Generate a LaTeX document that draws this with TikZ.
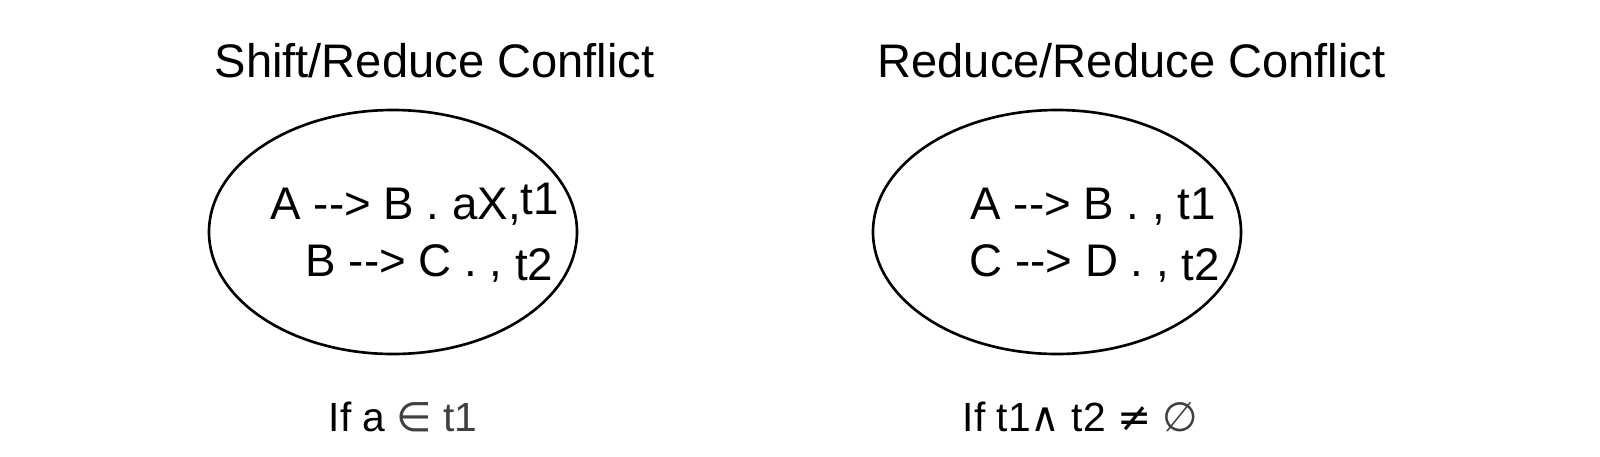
\documentclass[tikz,border=0pt]{standalone}
\usepackage{fontspec}
\usepackage{xcolor}
\setmainfont{Liberation Sans}
\newfontfamily\conflictsym{DejaVu Sans}
\usetikzlibrary{shapes.geometric}
\definecolor{conflictdark}{RGB}{0,0,0}
\definecolor{conflictgray}{RGB}{64,64,64}
\newcommand{\yields}{-{}->}
\tikzset{
  item set/.style={
    draw=conflictdark,
    ellipse,
    line width=0.75pt,
    minimum width=3.68cm,
    minimum height=2.44cm,
    inner sep=0pt,
  },
  title text/.style={
    font=\fontsize{13.4}{16}\selectfont,
    anchor=base,
    inner sep=0pt,
  },
  item text/.style={
    font=\fontsize{13}{15}\selectfont,
    anchor=base west,
    inner sep=0pt,
  },
  cond text/.style={
    font=\fontsize{11.6}{14}\selectfont,
    anchor=base west,
    inner sep=0pt,
  },
}

\begin{document}
\begin{tikzpicture}[x=1cm,y=1cm]
  \useasboundingbox (0,0) rectangle (16,-4.56);
  \node[item set] (srset) at (3.93,-2.32) {};
  \node[item set] (rrset) at (10.57,-2.32) {};

  \node[title text] (srtitle) at (4.345,-0.77) {Shift/Reduce Conflict};
  \node[title text] (rrtitle) at (11.315,-0.77) {Reduce/Reduce Conflict};

  \node[item text] (sritema) at (2.70,-2.19)
    {A \yields{} B . aX,\raisebox{1.4pt}{t1}};
  \node[item text] (sritemb) at (3.05,-2.76)
    {B \yields{} C . , \raisebox{-1.4pt}{t2}};
  \node[item text] (rritema) at (9.70,-2.19)
    {A \yields{} B . , t1};
  \node[item text] (rritemb) at (9.69,-2.76)
    {C \yields{} D . , \raisebox{-1.4pt}{t2}};

  \node[cond text] (srcond) at (3.28,-4.31)
    {If a {\color{conflictgray}\conflictsym ∈} {\color{conflictgray}t1}};
  \node[cond text] (rrcond) at (9.62,-4.31)
    {If t1{\conflictsym ∧} t2 {\conflictsym ≠} {\color{conflictgray}\conflictsym ∅}};
\end{tikzpicture}
\end{document}
